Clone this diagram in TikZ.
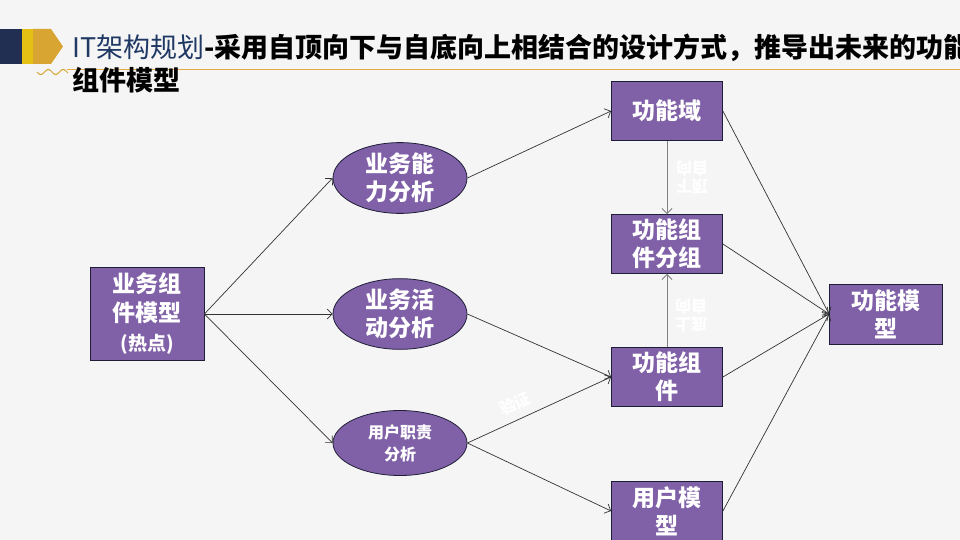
\documentclass[tikz,border=0pt]{standalone}
\usepackage{fontspec}
\setmainfont{Noto Sans CJK SC}
\usetikzlibrary{shapes.geometric, arrows.meta, math}
\definecolor{bgcol}{RGB}{245,245,245}
\definecolor{boxpurple}{RGB}{128,97,168}
\definecolor{boxline}{RGB}{30,30,55}
\definecolor{navybar}{RGB}{33,47,82}
\definecolor{titlenavy}{RGB}{31,56,100}
\definecolor{goldbar}{RGB}{216,165,50}
\definecolor{yellowbar}{RGB}{228,192,20}
\definecolor{ruleorange}{RGB}{228,172,70}

\tikzset{
  funcbox/.style={draw=boxline, line width=0.8, fill=boxpurple, text=white, align=center,
    font=\bfseries\fontsize{23}{28}\selectfont, minimum width=111pt, minimum height=59pt, inner sep=0pt},
  anabox/.style={ellipse, draw=boxline, line width=0.8, fill=boxpurple, text=white, align=center,
    font=\bfseries\fontsize{23}{28}\selectfont, minimum width=134pt, minimum height=65pt, inner sep=0pt},
  flow/.style={-{Straight Barb[length=5pt,width=10pt]}, draw=black!80, line width=0.7},
  flowgray/.style={-{Straight Barb[length=5pt,width=10pt]}, draw=black!50, line width=0.9},
  faint/.style={text=white, font=\bfseries\fontsize{16}{18}\selectfont, align=center, inner sep=0pt}
}

\begin{document}
\begin{tikzpicture}[x=1pt, y=-1pt]
\tikzmath{
\xa=147;% business side
\xb=400;% analysis column
\xc=667;% function column
\xd=886;% function model
}
\useasboundingbox (0,0) rectangle (960,540);
\fill[bgcol] (0,0) rectangle (960,540);

% title bar
\fill[navybar] (0,29) rectangle (22,64);
\fill[yellowbar] (22,29) rectangle (33,64);
\fill[goldbar] (33,29) -- (51,29) -- (63,46.5) -- (51,64) -- (33,64) -- cycle;
\draw[goldbar, line width=1] plot[domain=37:68, samples=40, variable=\x] ({\x},{72+2.5*sin((\x-37)*24)});
\draw[ruleorange, line width=1] (67,70) -- (960,70);
\node[anchor=west, inner sep=0pt, font=\fontsize{27}{27}\selectfont] (title) at (72,48)
  {{\color{titlenavy}IT架构规划}{\bfseries -采用自顶向下与自底向上相结合的设计方式，推导出未来的功能}};
\node[anchor=west, inner sep=0pt, font=\bfseries\fontsize{27}{27}\selectfont] (title2) at (72,80) {组件模型};

% nodes
\node[funcbox, minimum width=114pt, minimum height=93pt, font=\bfseries\fontsize{23}{29}\selectfont] (bcm) at (\xa,314)
  {业务组\\件模型\\{\fontsize{19}{19}\selectfont (热点)}};
\node[anabox] (bca) at (\xb,178) {业务能\\力分析};
\node[anabox] (baa) at (\xb,314) {业务活\\动分析};
\node[anabox, font=\bfseries\fontsize{16}{22}\selectfont] (ura) at (\xb,443) {用户职责\\分析};
\node[funcbox] (fdom) at (\xc,111) {功能域};
\node[funcbox] (fgrp) at (\xc,244) {功能组\\件分组};
\node[funcbox] (fcmp) at (\xc,377) {功能组\\件};
\node[funcbox] (umod) at (\xc,511) {用户模\\型};
\node[funcbox, minimum width=113pt, minimum height=60pt] (fmod) at (\xd,314) {功能模\\型};

% connectors
\draw[flow] (bcm.east) -- (bca.west);
\draw[flow] (bcm.east) -- (baa.west);
\draw[flow] (bcm.east) -- (ura.west);
\draw[flow] (bca.east) -- (fdom.west);
\draw[flow] (baa.east) -- (fcmp.west);
\draw[flow] (ura.east) -- node[faint, pos=0.38, above=8pt, sloped] (verify) {验证} (fcmp.west);
\draw[flow] (ura.east) -- (umod.west);
\draw[flowgray] (fdom.south) -- (fgrp.north);
\draw[flowgray] (fcmp.north) -- (fgrp.south);
\draw[flow] (fdom.east) -- (fmod.west);
\draw[flow] (fgrp.east) -- (fmod.west);
\draw[flow] (fcmp.east) -- (fmod.west);
\draw[flow] (umod.east) -- (fmod.west);

\node[faint, rotate=180] (topdown) at (692,177) {顶下\\自向};
\node[faint, rotate=180] (bottomup) at (691,316) {底上\\自向};
\end{tikzpicture}
\end{document}
